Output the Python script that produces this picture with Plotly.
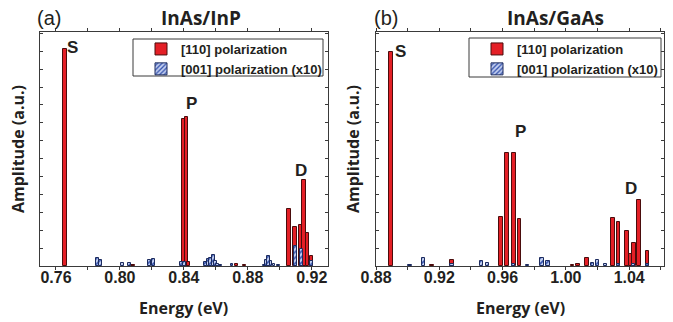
import plotly.graph_objects as go

# ---------------- data ----------------
# Panel (a) InAs/InP
a_red_energy = [0.7656, 0.8083, 0.8398, 0.8416, 0.8429, 0.8728, 0.8778,
                0.9057, 0.9097, 0.9134, 0.9151, 0.9173, 0.9200]
a_red_amp = [217, 1, 147, 149, 4, 1.7, 1,
             57, 39, 41, 86, 33, 10]
a_blue_energy = [0.7862, 0.7880, 0.8016, 0.8061, 0.8186, 0.8211, 0.8385, 0.8406,
                 0.8538, 0.8553, 0.8568, 0.8583, 0.8597, 0.8609, 0.8628, 0.8701,
                 0.8905, 0.8917, 0.8929, 0.8945, 0.8964, 0.8993,
                 0.9097, 0.9134, 0.9200]
a_blue_amp = [8, 6, 3, 3, 6, 7.3, 3.7, 4,
              4, 6.7, 8, 10.7, 4.7, 2.3, 1.3, 1.7,
              1.3, 6.3, 9.7, 5.3, 2, 1,
              20, 17, 5]

# Panel (b) InAs/GaAs
b_red_energy = [0.8897, 0.9152, 0.9280, 0.9592, 0.9628, 0.9670, 0.9707,
                1.0042, 1.0078, 1.0131, 1.0297, 1.0333, 1.0386, 1.0409,
                1.0428, 1.0463, 1.0516]
b_red_amp = [214, 0.7, 6.3, 49, 113.3, 113, 46.7,
             1.3, 1.7, 8.3, 48.3, 44, 35.3, 12.3,
             23.3, 66.3, 15]
b_blue_energy = [0.9015, 0.9100, 0.9280, 0.9468, 0.9503, 0.9670, 0.9758,
                 0.9849, 0.9887, 1.0167, 1.0202, 1.0249, 1.0333, 1.0428, 1.0516]
b_blue_amp = [1, 8.3, 1.7, 5.3, 3.3, 1.7, 1,
              8.3, 5.3, 3.3, 6.3, 1.7, 1.7, 1.7, 2.3]

a_tickvals = [0.76, 0.78, 0.80, 0.82, 0.84, 0.86, 0.88, 0.90, 0.92]
a_ticktext = ["0.76", "", "0.80", "", "0.84", "", "0.88", "", "0.92"]
b_tickvals = [0.88, 0.90, 0.92, 0.94, 0.96, 0.98, 1.00, 1.02, 1.04, 1.06]
b_ticktext = ["0.88", "", "0.92", "", "0.96", "", "1.00", "", "1.04", ""]

a_peaks = {"S": (0.7706, 218), "P": (0.8447, 162), "D": (0.9133, 96)}
b_peaks = {"S": (0.8952, 214), "P": (0.9716, 135), "D": (1.0411, 78)}

red_name = "[110] polarization"
blue_name = "[001] polarization (x10)"

# ---------------- styles ----------------
RED = "#e41f26"
RED_EDGE = "#4a0c0c"
BLUE_FILL = "#c3cff0"
BLUE_PAT = "#3352ad"
BLUE_EDGE = "#1c2b5e"
TXT = "#231f20"

fig = go.Figure()


def add_panel(xa, ya, red_e, red_a, blue_e, blue_a, legend, wr, wb):
    fig.add_trace(go.Bar(
        x=red_e, y=red_a, width=wr, name=red_name, xaxis=xa, yaxis=ya,
        marker=dict(color=RED, line=dict(color=RED_EDGE, width=1)),
        legend=legend, showlegend=True))
    fig.add_trace(go.Bar(
        x=blue_e, y=blue_a, width=wb, name=blue_name, xaxis=xa, yaxis=ya,
        marker=dict(color=BLUE_FILL, line=dict(color=BLUE_EDGE, width=1),
                    pattern=dict(shape="/", fgcolor=BLUE_PAT, bgcolor=BLUE_FILL,
                                 size=4, solidity=0.4)),
        legend=legend, showlegend=True))


add_panel("x", "y", a_red_energy, a_red_amp, a_blue_energy, a_blue_amp,
          "legend", 0.0022, 0.0018)
add_panel("x2", "y2", b_red_energy, b_red_amp, b_blue_energy, b_blue_amp,
          "legend2", 0.0024, 0.0020)

W, H = 673, 322
ydom = [(H - 266) / H, (H - 32) / H]

axis_common = dict(showline=True, linecolor="#3a3a3a", linewidth=1, mirror="ticks",
                   showgrid=False, zeroline=False, ticks="outside", ticklen=3,
                   tickcolor="#3a3a3a", automargin=False, ticklabelstandoff=-6,
                   tickfont=dict(family="Liberation Sans, Arial", size=16, color=TXT, weight="bold"))
yaxis_common = dict(showline=True, linecolor="#3a3a3a", linewidth=1, mirror="ticks",
                    showgrid=False, zeroline=False, ticks="inside", ticklen=3,
                    tickcolor="#3a3a3a", showticklabels=False, automargin=False,
                    range=[0, 234], tick0=0, dtick=17.9, domain=ydom)

legend_font = dict(family="Liberation Sans, Arial", size=13, color=TXT, weight="bold")
fig.update_layout(
    template="none",
    width=W, height=H, margin=dict(l=0, r=0, t=0, b=0, pad=0, autoexpand=False),
    paper_bgcolor="white", plot_bgcolor="white",
    barmode="overlay", bargap=0,
    xaxis=dict(domain=[40 / W, 328 / W], range=[0.75, 0.9302], anchor="y",
               tickvals=a_tickvals, ticktext=a_ticktext, **axis_common),
    yaxis=dict(anchor="x", **yaxis_common),
    xaxis2=dict(domain=[376 / W, 664 / W], range=[0.88, 1.062], anchor="y2",
                tickvals=b_tickvals, ticktext=b_ticktext, **axis_common),
    yaxis2=dict(anchor="x2", **yaxis_common),
    legend=dict(x=141 / W, y=(H - 34) / H, xanchor="left", yanchor="top",
                borderwidth=0, bgcolor="rgba(0,0,0,0)", font=legend_font,
                tracegroupgap=0, itemwidth=30),
    legend2=dict(x=477 / W, y=(H - 34) / H, xanchor="left", yanchor="top",
                 borderwidth=0, bgcolor="rgba(0,0,0,0)", font=legend_font,
                 tracegroupgap=0, itemwidth=30),
)

# legend frames
for x0, x1, y0, y1 in [(133, 323, 39, 76), (469, 661, 38, 77)]:
    fig.add_shape(type="rect", xref="paper", yref="paper",
                  x0=x0 / W, x1=x1 / W, y0=(H - y1) / H, y1=(H - y0) / H,
                  line=dict(color="#3a3a3a", width=1), fillcolor="white", layer="above")

ann = []
title_font = dict(family="Open Sans, Liberation Sans", size=19, color=TXT, weight="bold")
label_font = dict(family="Open Sans, Liberation Sans", size=16, color=TXT, weight="bold")
panel_font = dict(family="Liberation Sans, Arial", size=20, color=TXT)
peak_font = dict(family="Liberation Sans, Arial", size=17, color=TXT, weight="bold")

for txt, xc in [("(a)", 49), ("(b)", 386)]:
    ann.append(dict(text=txt, x=xc / W, y=(H - 18) / H, xref="paper", yref="paper",
                    showarrow=False, font=panel_font, xanchor="center", yanchor="middle"))
for txt, xc in [("InAs/InP", 201), ("InAs/GaAs", 555)]:
    ann.append(dict(text=txt, x=xc / W, y=(H - 18) / H, xref="paper", yref="paper",
                    showarrow=False, font=title_font, xanchor="center", yanchor="middle"))
for xc in [184, 520]:
    ann.append(dict(text="Energy (eV)", x=xc / W, y=(H - 308) / H, xref="paper", yref="paper",
                    showarrow=False, font=label_font, xanchor="center", yanchor="middle"))
for xc in [18, 353]:
    ann.append(dict(text="Amplitude (a.u.)", x=xc / W, y=(H - 149) / H, xref="paper",
                    yref="paper", showarrow=False, font=label_font, textangle=-90,
                    xanchor="center", yanchor="middle"))
for k, (xv, yv) in a_peaks.items():
    ann.append(dict(text=k, x=xv, y=yv, xref="x", yref="y", showarrow=False,
                    font=peak_font, xanchor="center", yanchor="middle"))
for k, (xv, yv) in b_peaks.items():
    ann.append(dict(text=k, x=xv, y=yv, xref="x2", yref="y2", showarrow=False,
                    font=peak_font, xanchor="center", yanchor="middle"))
fig.update_layout(annotations=ann)

fig.write_html("out.html", config={"displayModeBar": False},
               post_script="document.body.style.margin='0';document.body.style.padding='0';")
